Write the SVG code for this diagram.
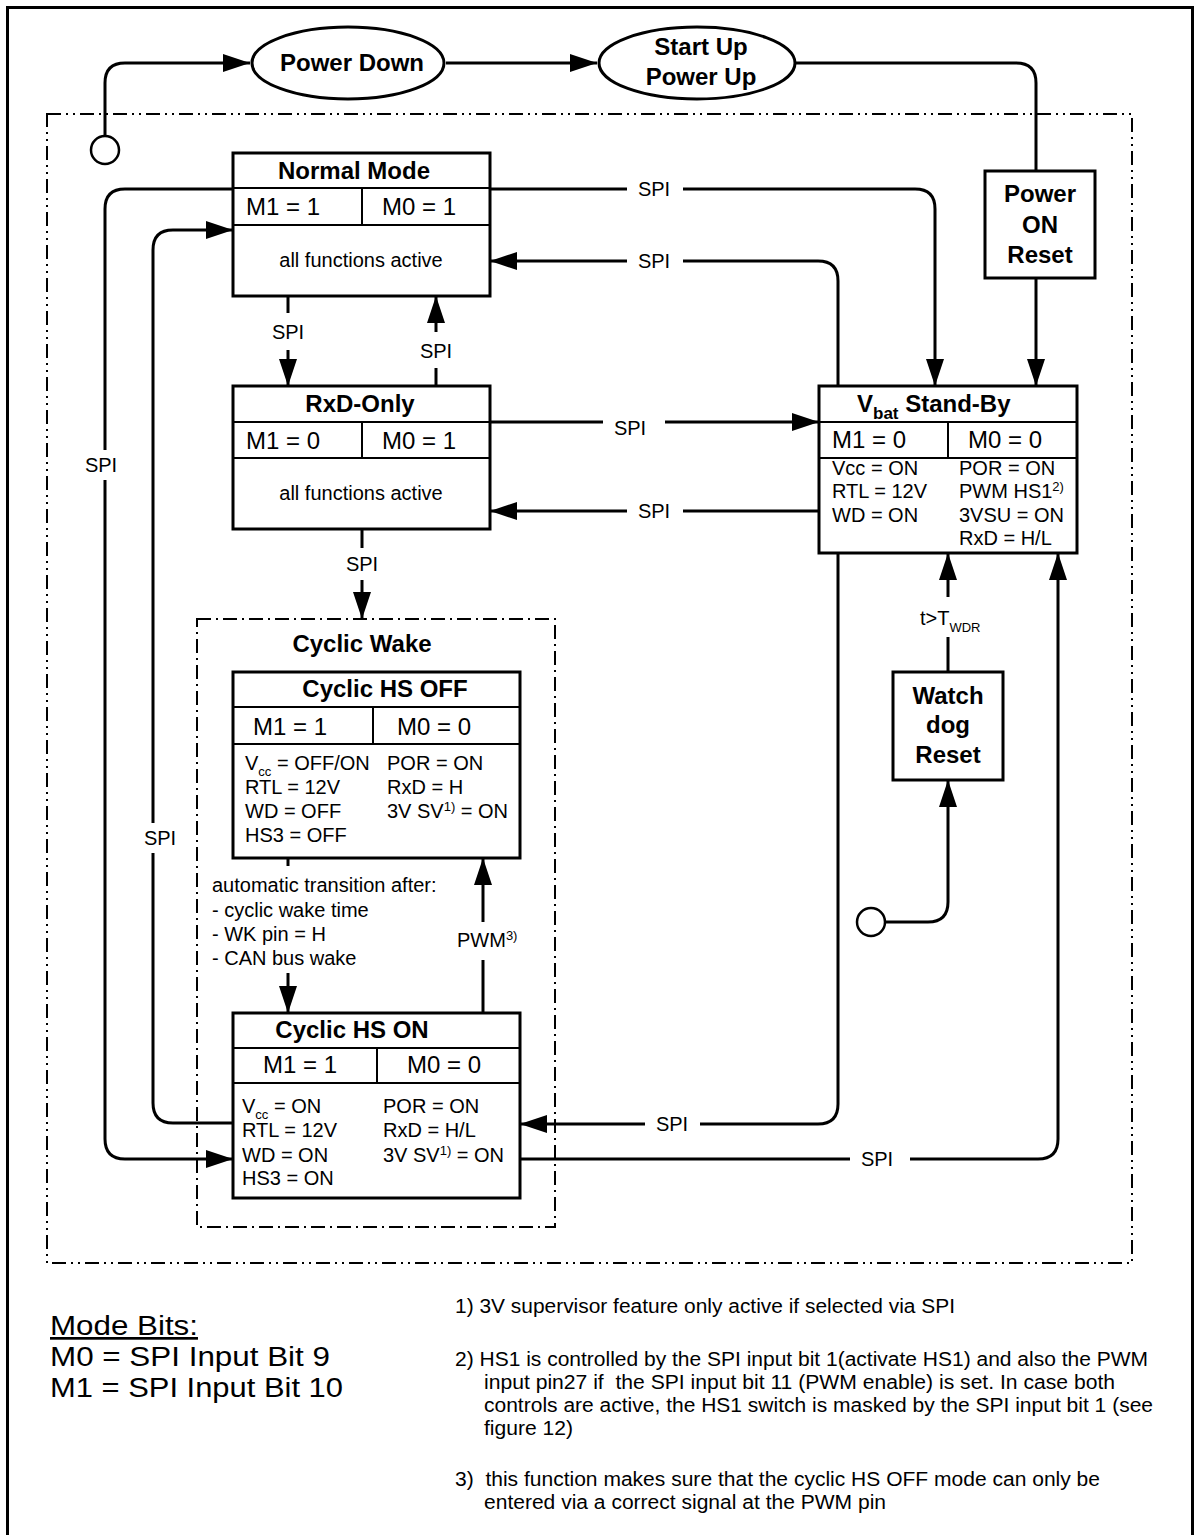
<svg xmlns="http://www.w3.org/2000/svg" width="1200" height="1535" viewBox="0 0 1200 1535">
<defs>
<style>
.t{font-family:"Liberation Sans",Arial,sans-serif;fill:#000}
.b{font-weight:bold;font-size:24px}
.m{font-size:24px}
.s{font-size:20px}
.f{font-size:20px;white-space:pre}
.mb{font-size:27px}
.c{text-anchor:middle}
.box{fill:#fff;stroke:#000;stroke-width:3}
.dv{fill:none;stroke:#000;stroke-width:2}
.ln{fill:none;stroke:#000;stroke-width:3}
.ar{marker-end:url(#ah)}
.bg{fill:#fff}
.dd{fill:none;stroke:#000;stroke-width:2;stroke-dasharray:14 5 2 5 2 5}
.d1{fill:none;stroke:#000;stroke-width:2;stroke-dasharray:14 5 2 5}
.circ{fill:#fff;stroke:#000;stroke-width:2.5}
</style>
<marker id="ah" markerUnits="userSpaceOnUse" markerWidth="27" markerHeight="18" refX="27" refY="9" orient="auto">
<path d="M0,0 L27,9 L0,18 z" fill="#000"/>
</marker>
</defs>
<rect x="0" y="0" width="1200" height="1535" fill="#fff"/>
<rect x="7.5" y="7.5" width="1185" height="1560" fill="none" stroke="#000" stroke-width="3"/>
<g id="boundaries">
<rect class="dd" x="47" y="114" width="1085" height="1149"/>
<rect class="d1" x="197" y="619" width="358" height="608"/>
</g>
<g id="connectors">
<path class="ln ar" d="M105,136 V83 Q105,63 125,63 H250"/>
<path class="ln ar" d="M446,63 H597"/>
<path class="ln" d="M796,63 H1016 Q1036,63 1036,83 V171"/>
<path class="ln ar" d="M1036,278 V386"/>
<path class="ln ar" d="M490,189 H915 Q935,189 935,209 V386"/>
<path class="ln ar" d="M838,386 V281 Q838,261 818,261 H490"/>
<path class="ln ar" d="M490,422 H819"/>
<path class="ln ar" d="M819,511 H490"/>
<path class="ln ar" d="M288,296 V386"/>
<path class="ln ar" d="M436,386 V296"/>
<path class="ln ar" d="M362,529 V619"/>
<path class="ln ar" d="M233,189 H125 Q105,189 105,209 V1139 Q105,1159 125,1159 H233"/>
<path class="ln ar" d="M233,1123 H173 Q153,1123 153,1103 V250 Q153,230 173,230 H233"/>
<path class="ln ar" d="M838,553 V1104 Q838,1124 818,1124 H520"/>
<path class="ln ar" d="M520,1159 H1038 Q1058,1159 1058,1139 V553"/>
<path class="ln ar" d="M948,672 V553"/>
<path class="ln ar" d="M885,922 H928 Q948,922 948,902 V780"/>
<path class="ln" d="M288,858 V866"/>
<path class="ln ar" d="M288,973 V1013"/>
<path class="ln ar" d="M483,1013 V858"/>
<circle class="circ" cx="105" cy="150" r="14"/>
<circle class="circ" cx="871" cy="922" r="14"/>
<g id="labels">
<rect class="bg" x="627" y="178" width="56" height="22"/>
<text class="t s c" x="654" y="196">SPI</text>
<rect class="bg" x="627" y="250" width="56" height="22"/>
<text class="t s c" x="654" y="268">SPI</text>
<rect class="bg" x="603" y="411" width="62" height="26"/>
<text class="t s c" x="630" y="435">SPI</text>
<rect class="bg" x="627" y="500" width="56" height="22"/>
<text class="t s c" x="654" y="518">SPI</text>
<rect class="bg" x="268" y="313" width="40" height="37"/>
<text class="t s c" x="288" y="339">SPI</text>
<rect class="bg" x="416" y="332" width="40" height="36"/>
<text class="t s c" x="436" y="358">SPI</text>
<rect class="bg" x="342" y="548" width="40" height="32"/>
<text class="t s c" x="362" y="571">SPI</text>
<rect class="bg" x="82" y="450" width="46" height="30"/>
<text class="t s c" x="101" y="472">SPI</text>
<rect class="bg" x="135" y="823" width="50" height="30"/>
<text class="t s c" x="160" y="845">SPI</text>
<rect class="bg" x="645" y="1113" width="55" height="22"/>
<text class="t s c" x="672" y="1131">SPI</text>
<rect class="bg" x="850" y="1148" width="60" height="22"/>
<text class="t s c" x="877" y="1166">SPI</text>
<rect class="bg" x="915" y="597" width="75" height="40"/>
<text class="t s" x="920" y="625">t&gt;T<tspan font-size="13" dy="7">WDR</tspan></text>
<rect class="bg" x="455" y="922" width="68" height="38"/>
<text class="t s" x="457" y="947">PWM<tspan font-size="13" dy="-7">3)</tspan></text>
</g>
</g>
<g id="power-down">
<ellipse cx="348" cy="63" rx="96" ry="36" class="box"/>
<text class="t b c" x="352" y="71">Power Down</text>
</g>
<g id="start-up">
<ellipse cx="697" cy="63" rx="98" ry="36" class="box"/>
<text class="t b c" x="701" y="55">Start Up</text>
<text class="t b c" x="701" y="85">Power Up</text>
</g>
<g id="power-on-reset">
<rect class="box" x="985" y="171" width="110" height="107"/>
<text class="t b c" x="1040" y="202">Power</text>
<text class="t b c" x="1040" y="233">ON</text>
<text class="t b c" x="1040" y="263">Reset</text>
</g>
<g id="normal-mode">
<rect class="box" x="233" y="153" width="257" height="143"/>
<path class="dv" d="M233,188 H490 M233,225 H490 M362,188 V225"/>
<text class="t b c" x="354" y="179">Normal Mode</text>
<text class="t m" x="246" y="215">M1 = 1</text>
<text class="t m" x="382" y="215">M0 = 1</text>
<text class="t s c" x="361" y="267">all functions active</text>
</g>
<g id="rxd-only">
<rect class="box" x="233" y="386" width="257" height="143"/>
<path class="dv" d="M233,422 H490 M233,458 H490 M362,422 V458"/>
<text class="t b c" x="360" y="412">RxD-Only</text>
<text class="t m" x="246" y="449">M1 = 0</text>
<text class="t m" x="382" y="449">M0 = 1</text>
<text class="t s c" x="361" y="500">all functions active</text>
</g>
<g id="vbat-standby">
<rect class="box" x="819" y="386" width="258" height="167"/>
<path class="dv" d="M819,422 H1077 M819,458 H1077 M948,422 V458"/>
<text class="t b" x="857" y="412">V<tspan font-size="17" dy="7">bat</tspan><tspan dy="-7"> Stand-By</tspan></text>
<text class="t m" x="832" y="448">M1 = 0</text>
<text class="t m" x="968" y="448">M0 = 0</text>
<text class="t s" x="832" y="475">Vcc = ON</text>
<text class="t s" x="832" y="498">RTL = 12V</text>
<text class="t s" x="832" y="522">WD = ON</text>
<text class="t s" x="959" y="475">POR = ON</text>
<text class="t s" x="959" y="498">PWM HS1<tspan font-size="13" dy="-7">2)</tspan></text>
<text class="t s" x="959" y="522">3VSU = ON</text>
<text class="t s" x="959" y="545">RxD = H/L</text>
</g>
<g id="watchdog-reset">
<rect class="box" x="893" y="672" width="110" height="108"/>
<text class="t b c" x="948" y="704">Watch</text>
<text class="t b c" x="948" y="733">dog</text>
<text class="t b c" x="948" y="763">Reset</text>
</g>
<g id="cyclic-wake">
<text class="t b c" x="362" y="652">Cyclic Wake</text>
</g>
<g id="cyclic-hs-off">
<rect class="box" x="233" y="672" width="287" height="186"/>
<path class="dv" d="M233,707 H520 M233,744 H520 M373,707 V744"/>
<text class="t b c" x="385" y="697">Cyclic HS OFF</text>
<text class="t m" x="253" y="735">M1 = 1</text>
<text class="t m" x="397" y="735">M0 = 0</text>
<text class="t s" x="245" y="770">V<tspan font-size="13" dy="6">cc</tspan><tspan dy="-6"> = OFF/ON</tspan></text>
<text class="t s" x="245" y="794">RTL = 12V</text>
<text class="t s" x="245" y="818">WD = OFF</text>
<text class="t s" x="245" y="842">HS3 = OFF</text>
<text class="t s" x="387" y="770">POR = ON</text>
<text class="t s" x="387" y="794">RxD = H</text>
<text class="t s" x="387" y="818">3V SV<tspan font-size="13" dy="-7">1)</tspan><tspan dy="7"> = ON</tspan></text>
</g>
<g id="auto-transition">
<text class="t s" x="212" y="892">automatic transition after:</text>
<text class="t s" x="212" y="917">- cyclic wake time</text>
<text class="t s" x="212" y="941">- WK pin = H</text>
<text class="t s" x="212" y="965">- CAN bus wake</text>
</g>
<g id="cyclic-hs-on">
<rect class="box" x="233" y="1013" width="287" height="185"/>
<path class="dv" d="M233,1048 H520 M233,1083 H520 M377,1048 V1083"/>
<text class="t b c" x="352" y="1038">Cyclic HS ON</text>
<text class="t m" x="263" y="1073">M1 = 1</text>
<text class="t m" x="407" y="1073">M0 = 0</text>
<text class="t s" x="242" y="1113">V<tspan font-size="13" dy="6">cc</tspan><tspan dy="-6"> = ON</tspan></text>
<text class="t s" x="242" y="1137">RTL = 12V</text>
<text class="t s" x="242" y="1162">WD = ON</text>
<text class="t s" x="242" y="1185">HS3 = ON</text>
<text class="t s" x="383" y="1113">POR = ON</text>
<text class="t s" x="383" y="1137">RxD = H/L</text>
<text class="t s" x="383" y="1162">3V SV<tspan font-size="13" dy="-7">1)</tspan><tspan dy="7"> = ON</tspan></text>
</g>
<g id="mode-bits">
<text class="t mb" x="50" y="1335" text-decoration="underline" textLength="148" lengthAdjust="spacingAndGlyphs">Mode Bits:</text>
<text class="t mb" x="50" y="1366" textLength="280" lengthAdjust="spacingAndGlyphs">M0 = SPI Input Bit 9</text>
<text class="t mb" x="50" y="1397" textLength="293" lengthAdjust="spacingAndGlyphs">M1 = SPI Input Bit 10</text>
</g>
<g id="footnotes">
<text class="t f" x="455" y="1313" textLength="500" lengthAdjust="spacingAndGlyphs">1) 3V supervisor feature only active if selected via SPI</text>
<text class="t f" x="455" y="1366" textLength="693" lengthAdjust="spacingAndGlyphs">2) HS1 is controlled by the SPI input bit 1(activate HS1) and also the PWM</text>
<text class="t f" x="484" y="1389" textLength="631" lengthAdjust="spacingAndGlyphs">input pin27 if  the SPI input bit 11 (PWM enable) is set. In case both</text>
<text class="t f" x="484" y="1412" textLength="669" lengthAdjust="spacingAndGlyphs">controls are active, the HS1 switch is masked by the SPI input bit 1 (see</text>
<text class="t f" x="484" y="1435" textLength="89" lengthAdjust="spacingAndGlyphs">figure 12)</text>
<text class="t f" x="455" y="1486" textLength="645" lengthAdjust="spacingAndGlyphs">3)  this function makes sure that the cyclic HS OFF mode can only be</text>
<text class="t f" x="484" y="1509" textLength="402" lengthAdjust="spacingAndGlyphs">entered via a correct signal at the PWM pin</text>
</g>
</svg>
